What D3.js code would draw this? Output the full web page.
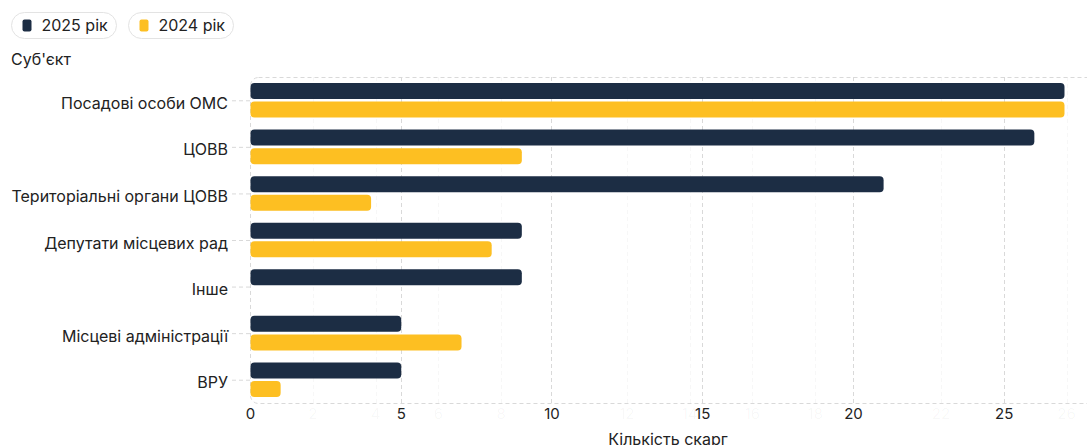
<!DOCTYPE html>
<html>
<head>
<meta charset="utf-8">
<script src="https://cdn.jsdelivr.net/npm/d3@7"></script>
<style>
  html, body { margin: 0; padding: 0; background: #fff; }
  body { width: 1087px; height: 445px; overflow: hidden; font-family: Inter, "Noto Sans", sans-serif; }
  svg { display: block; }
</style>
</head>
<body>
<svg id="chart" width="1087" height="445"></svg>
<script>
// Complaint subjects and counts per year
const categories = [
  "Посадові особи ОМС",
  "ЦОВВ",
  "Територіальні органи ЦОВВ",
  "Депутати місцевих рад",
  "Інше",
  "Місцеві адміністрації",
  "ВРУ"
];
const values2025 = [27, 26, 21, 9, 9, 5, 5];
const values2024 = [27, 9, 4, 8, 0, 7, 1];
const seriesNames = ["2025 рік", "2024 рік"];
const seriesColors = ["#1c2d44", "#fdbf22"];
const xTicks = [0, 5, 10, 15, 20, 25];
const fadingTicks = [2, 4, 6, 8, 12, 14, 16, 18, 22, 24, 26];
const yTitle = "Суб'єкт";
const xTitle = "Кількість скарг";

const series = seriesNames.map((name, i) => ({
  name, color: seriesColors[i], values: i === 0 ? values2025 : values2024
}));

const svg = d3.select("#chart");
const margin = { left: 250, right: 1, top: 77, bottom: 42 };
const W = 1087, H = 445;
const plotL = margin.left, plotR = W - margin.right;
const plotT = margin.top, plotB = H - margin.bottom;

const x = d3.scaleLinear().domain([0, 27.73]).range([plotL, plotR]);
// previous-state axis scale, still fading out
const xFade = d3.scaleLinear().domain([0, 26.62]).range([plotL, plotR]);
const y = d3.scaleBand().domain(categories).range([plotT, plotB]).paddingInner(0.257).paddingOuter(0.1285);
const ySub = d3.scaleBand().domain(seriesNames).range([0, y.bandwidth()]).paddingInner(0.14);

const grid = "#d9d9d9";
const font = "Inter, 'Noto Sans', sans-serif";
const ink = "#222";

// plot frame (dashed, rounded)
svg.append("rect")
  .attr("x", plotL + 0.5).attr("y", plotT + 0.5)
  .attr("width", plotR - plotL + 20).attr("height", plotB - plotT)
  .attr("rx", 8)
  .attr("fill", "none").attr("stroke", grid).attr("stroke-dasharray", "4,3");

// fading gridlines and labels
svg.append("g").selectAll("line").data(fadingTicks).join("line")
  .attr("x1", d => Math.round(xFade(d)) + 0.5).attr("x2", d => Math.round(xFade(d)) + 0.5)
  .attr("y1", plotT).attr("y2", plotB)
  .attr("stroke", grid).attr("stroke-opacity", 0.2).attr("stroke-dasharray", "4,3");
svg.append("g").selectAll("text").data(fadingTicks).join("text")
  .attr("x", d => xFade(d)).attr("y", plotB + 16)
  .attr("text-anchor", "middle")
  .attr("font-size", 15).attr("font-family", font).attr("fill", ink).attr("fill-opacity", 0.04)
  .text(d => d);

// main gridlines
svg.append("g").selectAll("line").data(xTicks.filter(d => d > 0)).join("line")
  .attr("x1", d => Math.round(x(d)) + 0.5).attr("x2", d => Math.round(x(d)) + 0.5)
  .attr("y1", plotT).attr("y2", plotB)
  .attr("stroke", grid).attr("stroke-dasharray", "4,3");

// x axis labels
const xAxis = d3.axisBottom(x).tickValues(xTicks).tickSize(0).tickPadding(0);
const gx = svg.append("g").attr("transform", `translate(0,${plotB})`).call(xAxis);
gx.select(".domain").remove();
gx.selectAll("text")
  .attr("y", 16).attr("dy", null)
  .attr("font-size", 15).attr("font-family", font).attr("fill", ink);

// y axis
const yAxis = d3.axisLeft(y).tickSize(0).tickPadding(0);
const gy = svg.append("g").attr("transform", `translate(${plotL},0)`).call(yAxis);
gy.select(".domain").remove();
gy.selectAll(".tick line").remove();
gy.selectAll(".tick").append("line")
  .attr("x1", -18).attr("x2", 0).attr("y1", 0.5).attr("y2", 0.5)
  .attr("stroke", grid).attr("stroke-dasharray", "4,3");
gy.selectAll("text")
  .attr("x", -22).attr("y", 3).attr("dy", "0.35em")
  .attr("font-size", 16).attr("font-family", font).attr("fill", ink);

// bars
const groups = svg.append("g").selectAll("g").data(categories).join("g")
  .attr("transform", d => `translate(0,${y(d)})`);
groups.selectAll("rect")
  .data((c, ci) => series.map(s => ({ s, v: s.values[ci] })).filter(d => d.v > 0))
  .join("rect")
  .attr("x", x(0) + 0.5)
  .attr("y", d => ySub(d.s.name))
  .attr("width", d => x(d.v) - x(0))
  .attr("height", ySub.bandwidth())
  .attr("rx", 4)
  .attr("fill", d => d.s.color);

// axis titles
svg.append("text").attr("x", 11).attr("y", 65)
  .attr("font-size", 16).attr("font-family", font).attr("fill", ink).text(yTitle);
svg.append("text").attr("x", (plotL + plotR) / 2).attr("y", H - 0.5)
  .attr("text-anchor", "middle")
  .attr("font-size", 16).attr("font-family", font).attr("fill", ink).text(xTitle);

// legend pills
const legend = svg.append("g").attr("transform", "translate(11.5,12.5)");
const pillW = 105, pillH = 26, pillGap = 12;
const items = legend.selectAll("g").data(series).join("g")
  .attr("transform", (d, i) => `translate(${i * (pillW + pillGap)},0)`);
items.append("rect").attr("width", pillW).attr("height", pillH).attr("rx", 13)
  .attr("fill", "#fff").attr("stroke", "#e3e3e3");
items.append("rect").attr("x", 11).attr("y", 7).attr("width", 9).attr("height", 12).attr("rx", 2)
  .attr("fill", d => d.color);
items.append("text").attr("x", 30).attr("y", 18.5)
  .attr("font-size", 16).attr("font-family", font).attr("fill", ink).text(d => d.name);
</script>
</body>
</html>
